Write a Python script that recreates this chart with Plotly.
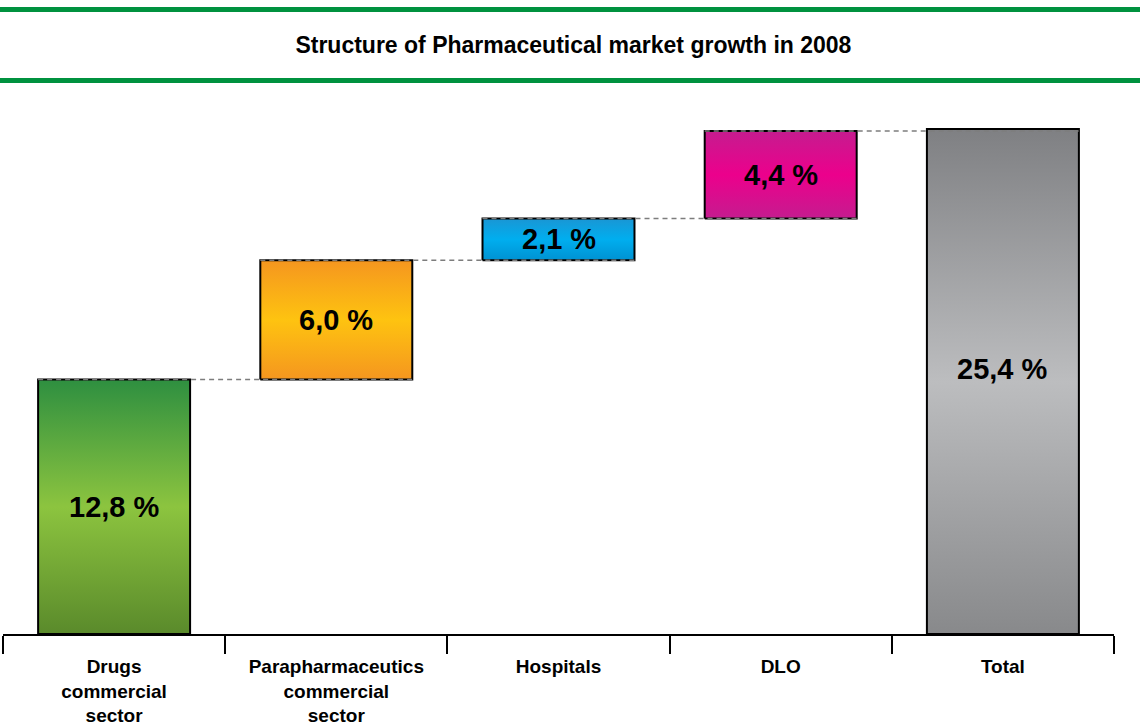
import plotly.graph_objects as go

# ---- data ---------------------------------------------------------------
categories = [
    "Drugs<br>commercial<br>sector",
    "Parapharmaceutics<br>commercial<br>sector",
    "Hospitals",
    "DLO",
    "Total",
]
growth = [12.8, 6.0, 2.1, 4.4]   # contributions, %
total = 25.4                      # overall growth, %

# vertical gradients for each bar, listed top -> middle -> bottom
gradients = [
    ["#2e8f40", "#8cc43f", "#5a8a2b"],   # green
    ["#f5961f", "#fec310", "#f5961f"],   # orange
    ["#1a96d4", "#00aeef", "#0092d2"],   # blue
    ["#c51c8f", "#ec008c", "#c51c8f"],   # magenta
    ["#7f8083", "#bcbdbf", "#88898b"],   # grey
]

W, H = 1140, 728
ML, MR, MT, MB = 3, 26, 100, 94
BAR_HALF = 0.342
Y_MAX = 26.86


def px_x(px):
    return (px - ML) / (W - ML - MR)


def px_y(py):
    return (H - MB - py) / (H - MT - MB)


def fmt(v):
    return f"{v:.1f}".replace(".", ",") + " %"


# base / top of each floating bar
bases, tops = [], []
running = 0.0
for g in growth:
    bases.append(running)
    running += g
    tops.append(running)
bases.append(0.0)
tops.append(total)
values = growth + [total]

fig = go.Figure()

for i, (b, t) in enumerate(zip(bases, tops)):
    top_c, mid_c, bot_c = gradients[i]
    x0, x1 = i - BAR_HALF, i + BAR_HALF
    fig.add_trace(go.Scatter(
        x=[x0, x1, x1, x0, x0],
        y=[b, b, t, t, b],
        mode="lines",
        fill="toself",
        fillgradient=dict(
            type="vertical",
            colorscale=[[0, bot_c], [0.5, mid_c], [1, top_c]],
        ),
        line=dict(color="black", width=2),
        hoverinfo="skip",
        showlegend=False,
    ))

# dashed connectors between consecutive bars
for i in range(len(growth)):
    lvl = tops[i]
    fig.add_trace(go.Scatter(
        x=[i - BAR_HALF, i + 1 + BAR_HALF],
        y=[lvl, lvl],
        mode="lines",
        line=dict(color="#7d7d7d", width=1.5, dash="5px,4px"),
        hoverinfo="skip",
        showlegend=False,
    ))

# value labels inside the bars
for i, (b, t, v) in enumerate(zip(bases, tops, values)):
    fig.add_annotation(
        x=i, y=(b + t) / 2, text=fmt(v), showarrow=False,
        yshift=13 if i == len(values) - 1 else 0,
        font=dict(family="Liberation Sans, Arial, sans-serif", size=29,
                  color="black", weight="bold"),
    )

# green rules above and below the title
for py in (9.5, 80.5):
    fig.add_shape(
        type="line", xref="paper", yref="paper",
        x0=px_x(0), x1=px_x(W), y0=px_y(py), y1=px_y(py),
        line=dict(color="#00923f", width=5),
    )

fig.update_layout(
    width=W, height=H,
    margin=dict(l=ML, r=MR, t=MT, b=MB),
    paper_bgcolor="white", plot_bgcolor="white",
    title=dict(
        text="Structure of Pharmaceutical market growth in 2008",
        x=0.503, xanchor="center", y=1 - 45 / H, yanchor="middle",
        yref="container",
        font=dict(family="Liberation Sans, Arial, sans-serif",
                  size=23, color="black", weight="bold"),
    ),
    xaxis=dict(
        range=[-0.5, 4.5], automargin=False,
        tickmode="array", tickvals=list(range(len(categories))), ticktext=categories,
        ticks="outside", ticklen=14, tickcolor="rgba(0,0,0,0)",
        minor=dict(tickmode="array", tickvals=[k - 0.5 for k in range(len(categories) + 1)],
                   ticks="outside", ticklen=18, tickwidth=2, tickcolor="black"),
        showline=True, linecolor="black", linewidth=2,
        showgrid=False, zeroline=False, fixedrange=True,
        tickfont=dict(family="Liberation Sans, Arial, sans-serif", size=19,
                      color="black", weight="bold"),
    ),
    yaxis=dict(
        range=[0, Y_MAX], visible=False, showgrid=False, zeroline=False,
        fixedrange=True, automargin=False,
    ),
)

fig.write_html("out.html")
